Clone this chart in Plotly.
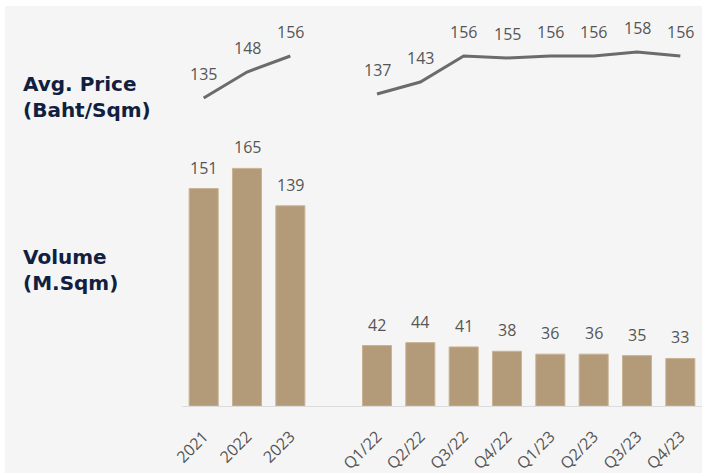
import plotly.graph_objects as go

categories = ["2021", "2022", "2023", " ", "Q1/22", "Q2/22", "Q3/22", "Q4/22",
              "Q1/23", "Q2/23", "Q3/23", "Q4/23"]
tick_labels = ["2021", "2022", "2023", "", "Q1/22", "Q2/22", "Q3/22", "Q4/22",
               "Q1/23", "Q2/23", "Q3/23", "Q4/23"]
volume = [151, 165, 139, None, 42, 44, 41, 38, 36, 36, 35, 33]
price = [135, 148, 156, None, 137, 143, 156, 155, 156, 156, 158, 156]

FONT = "Open Sans"
HEAD_FONT = "DejaVu Sans"
NUM_COLOR = "#555555"
HEAD_COLOR = "#10203f"

idx = list(range(len(categories)))

fig = go.Figure()
fig.add_trace(go.Bar(
    x=idx, y=volume, width=0.67,
    marker=dict(color="#b39a79", line=dict(color="#c8b394", width=1)),
    yaxis="y", hoverinfo="skip", showlegend=False,
))
fig.add_trace(go.Scatter(
    x=idx, y=price, mode="lines", connectgaps=False,
    line=dict(color="#6c6a6a", width=3),
    yaxis="y2", hoverinfo="skip", showlegend=False,
))

annotations = []
for i, v in zip(idx, volume):
    if v is None:
        continue
    annotations.append(dict(x=i, y=v, xref="x", yref="y", text=str(v),
                            showarrow=False, yanchor="middle", yshift=21,
                            font=dict(family=FONT, size=16, color=NUM_COLOR)))
for i, v in zip(idx, price):
    if v is None:
        continue
    annotations.append(dict(x=i, y=v, xref="x", yref="y2", text=str(v),
                            showarrow=False, yanchor="middle", yshift=24,
                            font=dict(family=FONT, size=16, color=NUM_COLOR)))

W, H = 702, 473
L, R, T, B = 182, 0, 10, 67
pw, ph = W - L - R, H - T - B


def px_x(p):
    return (p - L) / pw


def px_y(p):
    return (H - B - p) / ph


annotations.append(dict(xref="paper", yref="paper", x=px_x(21), y=px_y(97),
                        xanchor="left", yanchor="middle", align="left",
                        text="<b>Avg. Price<br>(Baht/Sqm)</b>", showarrow=False,
                        font=dict(family=HEAD_FONT, size=20, color=HEAD_COLOR)))
annotations.append(dict(xref="paper", yref="paper", x=px_x(21), y=px_y(270),
                        xanchor="left", yanchor="middle", align="left",
                        text="<b>Volume<br>(M.Sqm)</b>", showarrow=False,
                        font=dict(family=HEAD_FONT, size=20, color=HEAD_COLOR)))

shapes = [dict(type="rect", xref="paper", yref="paper", layer="below",
               x0=px_x(5), x1=px_x(W + 5), y0=px_y(H + 5), y1=px_y(6),
               fillcolor="#f5f5f5", line=dict(width=0))]

fig.update_layout(
    width=W, height=H,
    margin=dict(l=L, r=R, t=T, b=B),
    paper_bgcolor="#ffffff", plot_bgcolor="rgba(0,0,0,0)",
    xaxis=dict(tickmode="array", tickvals=idx, ticktext=tick_labels, tickangle=-45,
               range=[-0.5, 11.5], showgrid=False, zeroline=False,
               showline=True, linecolor="#dcdcdc", linewidth=1,
               ticks="outside", ticklen=14, tickcolor="rgba(0,0,0,0)",
               tickfont=dict(family=FONT, size=16, color=NUM_COLOR)),
    yaxis=dict(range=[0, ph / 1.44], visible=False, showgrid=False),
    yaxis2=dict(range=[156 + 46 / 2 - ph / 2, 156 + 46 / 2], overlaying="y",
                visible=False, showgrid=False),
    annotations=annotations, shapes=shapes,
    bargap=0.33,
)

fig.write_html("out.html", config={"displayModeBar": False},
               post_script="document.body.style.margin='0px';"
                           "document.body.style.overflow='hidden';")
